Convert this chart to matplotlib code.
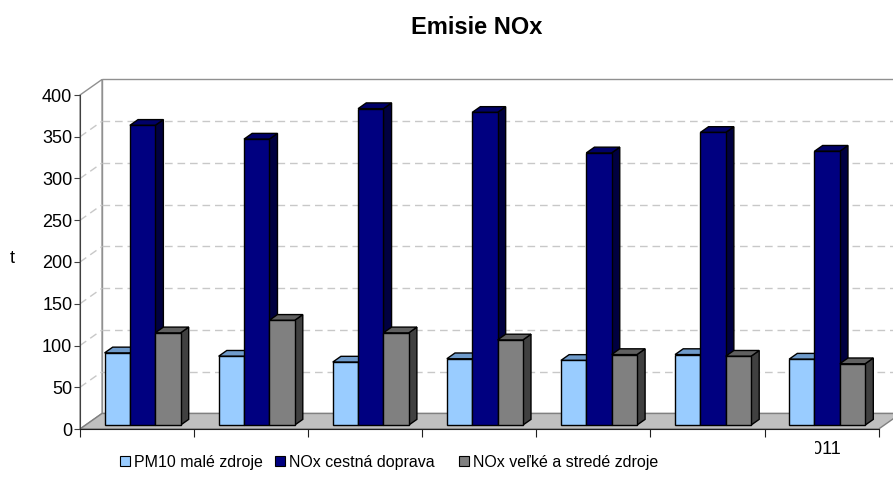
import numpy as np
import matplotlib.pyplot as plt
from matplotlib.patches import Polygon, Patch
from matplotlib.transforms import Bbox, TransformedBbox

years = ['2005', '2006', '2007', '2008', '2009', '2010', '2011']
pm10_small = [86.5, 82.5, 75.5, 79.5, 77.5, 84.5, 79.0]
nox_road = [359.0, 342.5, 379.0, 374.5, 326.0, 350.5, 328.0]
nox_large = [110.5, 125.5, 110.5, 102.0, 84.5, 82.5, 73.5]
series_names = ['PM10 malé zdroje', 'NOx cestná doprava', 'NOx veľké a stredé zdroje']
yticks = np.arange(0, 401, 50)

# front / top / side shades for each series
faces = [
    ('#99CCFF', '#6F9BCB', '#4C6680'),
    ('#000080', '#000068', '#000040'),
    ('#808080', '#606060', '#404040'),
]

plt.rcParams['font.family'] = ['Liberation Sans', 'DejaVu Sans']

fig = plt.figure(figsize=(8.93, 4.94), dpi=100)
ax = fig.add_axes([80 / 893, 65 / 494, 798.7 / 893, 334 / 494])
n = len(years)
ax.set_xlim(0, n)
ax.set_ylim(0, 400)
ax.patch.set_visible(False)

# depth of the 3d box in data units
DX = 0.193
DY = 18.6

# back wall, left wall and floor
ax.add_patch(Polygon([(DX, DY), (n + DX, DY), (n + DX, 400 + DY), (DX, 400 + DY)],
                     closed=True, fc='white', ec='#909090', lw=1.0, clip_on=False, zorder=0))
ax.add_patch(Polygon([(0, 0), (0, 400), (DX, 400 + DY), (DX, DY)],
                     closed=True, fc='white', ec='#909090', lw=1.0, clip_on=False, zorder=0))
for v in yticks[1:-1]:
    ax.plot([DX, n + DX], [v + DY, v + DY], color='#C8C8C8', lw=1.0,
            dashes=(5.5, 3.5), clip_on=False, zorder=1)
    ax.plot([0, DX], [v, v + DY], color='#C8C8C8', lw=1.0,
            dashes=(5.5, 3.5), clip_on=False, zorder=1)
ax.add_patch(Polygon([(0, 0), (n, 0), (n + DX, DY), (DX, DY)],
                     closed=True, fc='#C0C0C0', ec='#808080', lw=1.0, clip_on=False, zorder=2))

# bars
series = [pm10_small, nox_road, nox_large]
w = 0.222
gap = 0.5 - 1.5 * w
f0, f1 = 0.25, 0.62
ox0, oy0 = f0 * DX, f0 * DY
ox1, oy1 = f1 * DX, f1 * DY
z = 3
for i in range(n):
    for s, vals in enumerate(series):
        v = vals[i]
        x0 = i + gap + s * w + ox0
        front, top, side = faces[s]
        ax.add_patch(Polygon([(x0 + w, oy0), (x0 + w, v + oy0),
                              (x0 + w - ox0 + ox1, v + oy1), (x0 + w - ox0 + ox1, oy1)],
                             closed=True, fc=side, ec='black', lw=1.0, zorder=z, clip_on=False))
        ax.add_patch(Polygon([(x0, v + oy0), (x0 + w, v + oy0),
                              (x0 + w - ox0 + ox1, v + oy1), (x0 - ox0 + ox1, v + oy1)],
                             closed=True, fc=top, ec='black', lw=1.0, zorder=z, clip_on=False))
        ax.bar(x0, v, width=w, bottom=oy0, align='edge', color=front,
               edgecolor='black', linewidth=1.0, zorder=z + 0.5, clip_on=False)
        z += 1

# axes
for side_name in ['top', 'right']:
    ax.spines[side_name].set_visible(False)
ax.spines['left'].set_color('#404040')
ax.spines['bottom'].set_color('#202020')
ax.spines['left'].set_zorder(50)
ax.spines['bottom'].set_zorder(50)
ax.set_yticks(yticks)
ax.tick_params(axis='y', length=4.5, width=0.8, color='#404040', pad=1, labelsize=13)
ax.set_xticks(np.arange(n + 1))
ax.set_xticklabels([])
ax.tick_params(axis='x', length=5.5, width=0.8, color='#202020')

lab = ax.text(n - 0.5, -24, years[-1], ha='center', va='center', fontsize=13)
lab.set_clip_box(TransformedBbox(Bbox([[815 / 893, 0], [1, 1]]), fig.transFigure))
lab.set_clip_on(True)

fig.text(477 / 893, 1 - 28 / 494, 'Emisie NOx', ha='center', va='center',
         fontsize=17, fontweight='bold')
fig.text(12.5 / 893, 1 - 258 / 494, 't', ha='center', va='center', fontsize=13)

# legend entries placed one by one
legend_x = [120, 275, 459]
for k in range(3):
    h = Patch(facecolor=faces[k][0], edgecolor='black', linewidth=0.8, label=series_names[k])
    fig.legend(handles=[h], loc='center left', bbox_to_anchor=(legend_x[k] / 893, 1 - 462 / 494),
               frameon=False, fontsize=11.5, handlelength=0.65, handleheight=0.65,
               handletextpad=0.25, borderpad=0, borderaxespad=0)

fig.savefig('out.png', dpi=100)
